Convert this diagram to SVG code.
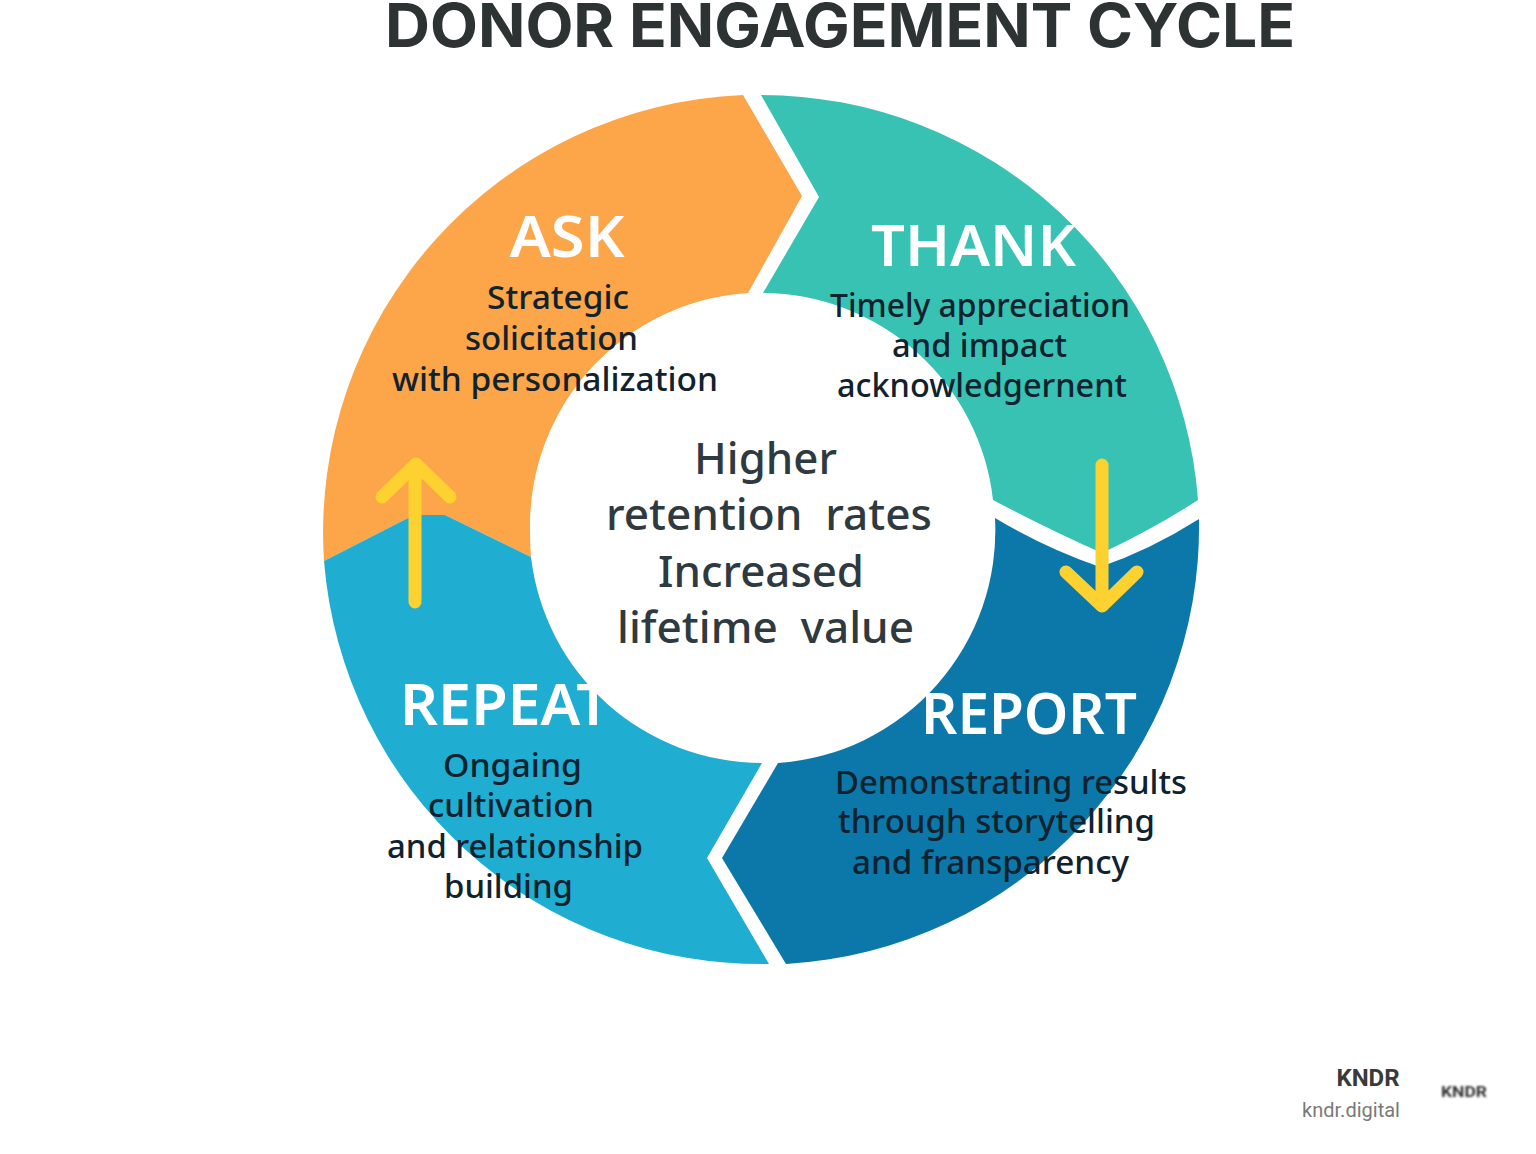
<svg xmlns="http://www.w3.org/2000/svg" width="1536" height="1154" viewBox="0 0 1536 1154">
<defs><filter id="soft" x="-20%" y="-50%" width="140%" height="200%"><feGaussianBlur stdDeviation="1"/></filter></defs>
<style>
text{text-anchor:middle}
.h{font-family:"Noto Sans","Open Sans",sans-serif;font-weight:600;font-size:58px;fill:#fff}
.b{font-size:32px;fill:#10222e;font-weight:500;font-family:"Noto Sans",sans-serif}
.c{font-size:44px;fill:#2f3a40;font-weight:500;font-family:"Noto Sans",sans-serif;white-space:pre}
.ar{fill:none;stroke:#fdd230;stroke-width:13;stroke-linecap:round;stroke-linejoin:round}
</style>
<rect width="1536" height="1154" fill="#fff"/>
<text id="title" x="840" y="47" textLength="910" lengthAdjust="spacingAndGlyphs" style="font-family:Inter,sans-serif;font-weight:700;font-size:60px;fill:#2d3233">DONOR ENGAGEMENT CYCLE</text>
<g id="ask"><path d="M743 95 L802 196 L748 293 A233 233 0 0 0 530 530 Q530 545 531 557 L445 515 L422 515 Q415 515 408 518 L324 561 A438 438 0 0 1 743 95Z" fill="#fca549"/>
<text class="h" x="567" y="257" textLength="115" lengthAdjust="spacingAndGlyphs">ASK</text>
<text class="b" x="558" y="309" textLength="142" lengthAdjust="spacingAndGlyphs">Strategic</text><text class="b" x="551.5" y="350" textLength="173" lengthAdjust="spacingAndGlyphs">solicitation</text><text class="b" x="555" y="391" textLength="326" lengthAdjust="spacingAndGlyphs">with personalization</text></g>
<g id="thank"><path d="M761 95 A438 438 0 0 1 1198 500 Q1155 528 1102 553 Q1050 530 993 500 A233 233 0 0 0 763 293 L819 197Z" fill="#37c2b4"/>
<text class="h" x="973.5" y="266" textLength="205" lengthAdjust="spacingAndGlyphs">THANK</text>
<text class="b" x="980" y="317" textLength="300" lengthAdjust="spacingAndGlyphs">Timely appreciation</text><text class="b" x="979.5" y="357" textLength="175" lengthAdjust="spacingAndGlyphs">and impact</text><text class="b" x="982" y="397" textLength="290" lengthAdjust="spacingAndGlyphs">acknowledgernent</text></g>
<g id="report"><path d="M1199 519 A438 438 0 0 1 786 964 L722 858 L778 763 A233 233 0 0 0 995 518 Q1045 548 1100 567 Q1150 550 1199 519Z" fill="#0b78a9"/>
<text class="h" x="1029" y="734" textLength="216" lengthAdjust="spacingAndGlyphs">REPORT</text>
<text class="b" x="1011" y="794" textLength="352" lengthAdjust="spacingAndGlyphs">Demonstrating results</text><text class="b" x="996.5" y="833" textLength="317" lengthAdjust="spacingAndGlyphs">through storytelling</text><text class="b" x="990.5" y="874" textLength="277" lengthAdjust="spacingAndGlyphs">and fransparency</text></g>
<g id="repeat"><path d="M324 561 L408 518 Q415 515 422 515 L445 515 L531 557 A233 233 0 0 0 762 763 L707 858 L769 964 A438 438 0 0 1 324 561Z" fill="#20add2"/>
<text class="h" x="505" y="725" textLength="210" lengthAdjust="spacingAndGlyphs">REPEAT</text>
<text class="b" x="512.5" y="777" textLength="139" lengthAdjust="spacingAndGlyphs">Ongaing</text><text class="b" x="511" y="817" textLength="166" lengthAdjust="spacingAndGlyphs">cultivation</text><text class="b" x="515" y="858" textLength="256" lengthAdjust="spacingAndGlyphs">and relationship</text><text class="b" x="508.5" y="898" textLength="129" lengthAdjust="spacingAndGlyphs">building</text></g>
<g id="center"><text class="c" x="765.5" y="474" textLength="143" lengthAdjust="spacingAndGlyphs">Higher</text><text class="c" x="769" y="530" textLength="326" lengthAdjust="spacingAndGlyphs">retention  rates</text><text class="c" x="761" y="587" textLength="206" lengthAdjust="spacingAndGlyphs">Increased</text><text class="c" x="765.5" y="643" textLength="297" lengthAdjust="spacingAndGlyphs">lifetime  value</text></g>
<g id="connectors"><path class="ar" d="M415 602V465M382 497L416 464L450 497"/><path class="ar" d="M1102 465V606M1066 572L1102 606L1137 572"/></g>
<g id="brand"><text x="1368" y="1086" style="font-family:Roboto,sans-serif;font-weight:700;font-size:24px;fill:#3a3a3a">KNDR</text><text x="1351" y="1117" style="font-family:Roboto,sans-serif;font-size:20px;fill:#7a7a7a">kndr.digital</text><text x="1464" y="1097" textLength="46" lengthAdjust="spacingAndGlyphs" filter="url(#soft)" style="font-family:Roboto,sans-serif;font-weight:700;font-size:14px;fill:#333">KNDR</text></g>
</svg>
